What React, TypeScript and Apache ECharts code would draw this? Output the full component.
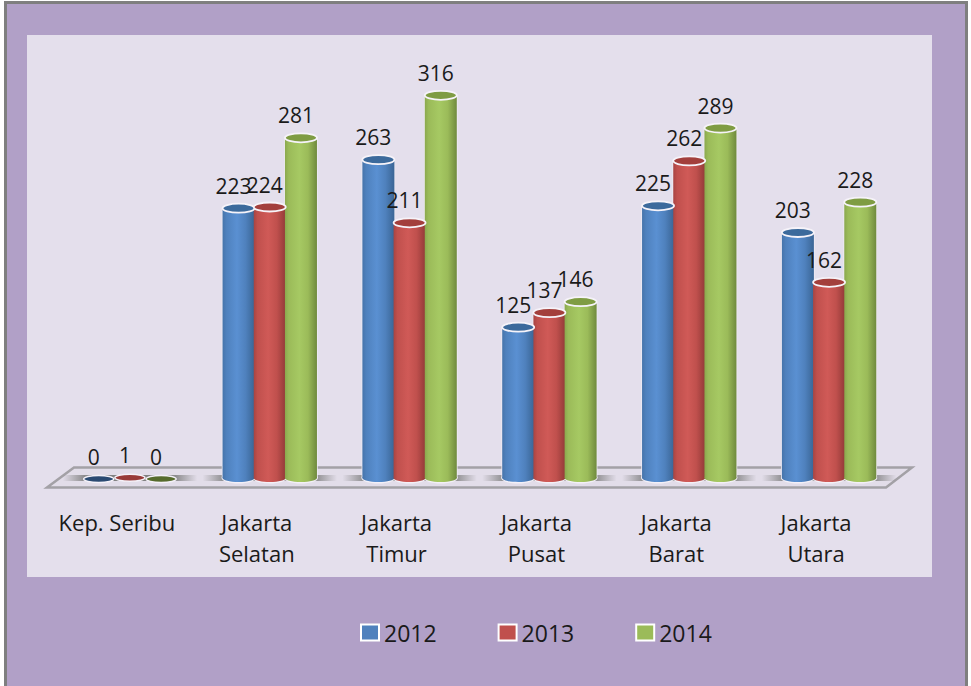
import React, { useEffect, useRef } from "react";
import * as echarts from "echarts";

const categories = ["Kep. Seribu", "Jakarta\nSelatan", "Jakarta\nTimur", "Jakarta\nPusat", "Jakarta\nBarat", "Jakarta\nUtara"];
const years = ["2012", "2013", "2014"];
const values2012 = [0, 223, 263, 125, 225, 203];
const values2013 = [1, 224, 211, 137, 262, 162];
const values2014 = [0, 281, 316, 146, 289, 228];
const seriesValues = [values2012, values2013, values2014];

const palette = [
  { base: "#4f81bd", light: "#5a90d2", edge: "#4674aa", dark: "#3a6595", cap: "#3c6a9c", flat: "#2a4a72" },
  { base: "#c0504d", light: "#d05a57", edge: "#a84442", dark: "#923a38", cap: "#a33f3c", flat: "#983a38" },
  { base: "#9bbb59", light: "#a6c963", edge: "#8aa84e", dark: "#6f8a3d", cap: "#7f9c43", flat: "#566b2c" },
];
const FONT = "'Open Sans'";
const BAR_W = 32;
const BAR_STEP = 31.2;

function bodyGradient(p: { base: string; light: string; dark: string; edge: string }) {
  return new echarts.graphic.LinearGradient(0, 0, 1, 0, [
    { offset: 0, color: p.edge },
    { offset: 0.12, color: p.base },
    { offset: 0.45, color: p.light },
    { offset: 0.72, color: p.base },
    { offset: 1, color: p.dark },
  ]);
}

function makeRenderItem(si: number) {
  return (_params: any, api: any) => {
    const v = api.value(1);
    const base = api.coord([api.value(0), 0]);
    const top = api.coord([api.value(0), v]);
    const cx = base[0] + (si - 1) * BAR_STEP;
    const x = cx - BAR_W / 2;
    const p = palette[si];
    const flat = v < 5;
    const children: any[] = [
      {
        type: "rect",
        z2: 0,
        shape: { x: cx - BAR_W / 2 - 20, y: base[1] - 4, width: BAR_W + 40, height: 6 },
        style: {
          fill: new echarts.graphic.LinearGradient(0, 0, 1, 0, [
            { offset: 0, color: "rgba(125,125,125,0)" },
            { offset: 0.3, color: "rgba(125,125,125,0.85)" },
            { offset: 0.7, color: "rgba(125,125,125,0.85)" },
            { offset: 1, color: "rgba(125,125,125,0)" },
          ]),
        },
      },
    ];
    if (flat) {
      children.push({
        type: "ellipse",
        z2: 3,
        shape: { cx, cy: top[1], rx: BAR_W / 2 - 1, ry: 3.5 },
        style: { fill: p.flat, stroke: "#f4f1f8", lineWidth: 1.5 },
      });
    } else {
      children.push(
        { type: "ellipse", z2: 1, shape: { cx, cy: base[1] - 1, rx: BAR_W / 2 + 1, ry: 5.5 }, style: { fill: "#f3f0f7" } },
        { type: "rect", z2: 1, shape: { x: x - 0.8, y: top[1], width: BAR_W + 1.6, height: base[1] - top[1] - 1 }, style: { fill: "#efebf4" } },
        { type: "ellipse", z2: 2, shape: { cx, cy: base[1] - 1, rx: BAR_W / 2, ry: 4 }, style: { fill: bodyGradient(p) } },
        { type: "rect", z2: 2, shape: { x, y: top[1], width: BAR_W, height: base[1] - top[1] - 1 }, style: { fill: bodyGradient(p) } },
        { type: "ellipse", z2: 3, shape: { cx, cy: top[1], rx: BAR_W / 2, ry: 4.5 }, style: { fill: p.cap, stroke: "#f6f3f9", lineWidth: 1.8 } },
      );
    }
    children.push({
      type: "text",
      z2: 100,
      style: {
        text: String(v),
        x: cx - 5,
        y: top[1] - 22.5,
        align: "center",
        verticalAlign: "middle",
        font: `21px ${FONT}`,
        fill: "#1a1a1a",
      },
    });
    return { type: "group", children };
  };
}

export default function App() {
  const ref = useRef<HTMLDivElement>(null);
  useEffect(() => {
    const chart = echarts.init(ref.current!, null, { renderer: "svg" });
    chart.setOption({
      animation: false,
      backgroundColor: "#ffffff",
      textStyle: { fontFamily: FONT },
      graphic: [
        { type: "rect", z: -10, shape: { x: 5.5, y: 2.5, width: 961, height: 690 }, style: { fill: "#b1a0c7", stroke: "#7f7f7f", lineWidth: 3 } },
        { type: "rect", z: -9, shape: { x: 27, y: 35, width: 905, height: 542 }, style: { fill: "#e4dfec" } },
        {
          type: "polygon",
          z: -8,
          shape: { points: [[47, 487.5], [74, 467.5], [912, 467.5], [886, 487.5]] },
          style: { fill: "#e2dde9", stroke: "#a3a1a6", lineWidth: 2.5 },
        },
      ],
      grid: { left: 60, width: 839, top: 54, height: 425 },
      xAxis: {
        type: "category",
        data: categories,
        axisLine: { show: false },
        axisTick: { show: false },
        axisLabel: {
          interval: 0,
          margin: 27,
          padding: [0, 26, 0, 0],
          color: "#1a1a1a",
          fontFamily: FONT,
          fontSize: 22,
          lineHeight: 31,
          verticalAlign: "top",
        },
      },
      yAxis: { type: "value", min: 0, max: 350, show: false, splitLine: { show: false } },
      legend: {
        left: 355,
        top: 616,
        itemWidth: 18,
        itemHeight: 16,
        itemGap: 61,
        icon: "rect",
        itemStyle: { borderColor: "#ffffff", borderWidth: 2 },
        textStyle: { color: "#1a1a1a", fontFamily: FONT, fontSize: 23 },
        data: years,
      },
      series: years.map((name, si) => ({
        name,
        type: "custom",
        coordinateSystem: "cartesian2d",
        itemStyle: { color: palette[si].base },
        encode: { x: 0, y: 1 },
        data: seriesValues[si].map((v, i) => [i, v]),
        renderItem: makeRenderItem(si),
      })),
    });
    return () => chart.dispose();
  }, []);
  return <div ref={ref} style={{ position: "fixed", left: 0, top: 0, width: 971, height: 686 }} />;
}
